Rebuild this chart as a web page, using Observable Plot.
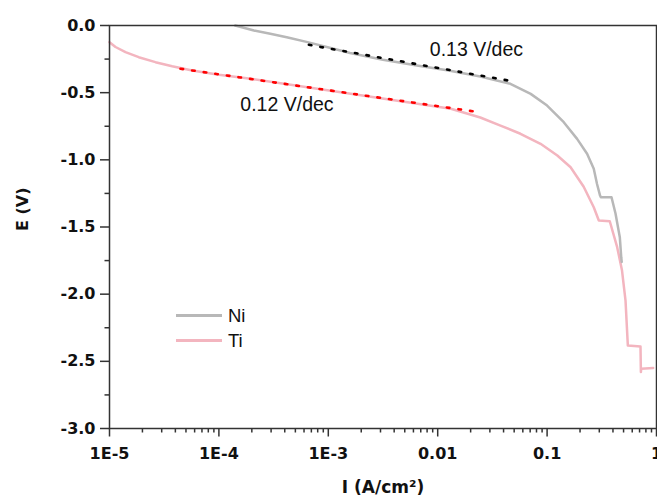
<!DOCTYPE html>
<html>
<head>
<meta charset="utf-8">
<script src="https://cdn.jsdelivr.net/npm/d3@7"></script>
<script src="https://cdn.jsdelivr.net/npm/@observablehq/plot@0.6"></script>
<style>
  html, body { margin: 0; padding: 0; background: #fff; }
  #wrap { position: relative; width: 657px; height: 502px; overflow: hidden; }
  #legend { position: absolute; left: 176px; top: 303px; font-family: "Liberation Sans", Arial, sans-serif; font-size: 18.5px; color: #111; }
  .row { display: flex; align-items: center; height: 25px; }
  .sw { width: 46px; height: 2.5px; margin-right: 6px; }
</style>
</head>
<body>
<div id="wrap"><div id="legend"></div></div>
<script>
// Current density (A/cm^2) and potential (V)
const niI = [1.41e-4, 2.09e-4, 2.95e-4, 4.17e-4, 6.46e-4, 1.12e-3, 1.58e-3, 3.16e-3, 6.46e-3, 0.0126, 0.0245, 0.0462, 0.0708, 0.1, 0.142, 0.188, 0.232, 0.267, 0.286, 0.305, 0.31, 0.388, 0.422, 0.462, 0.476, 0.481];
const niE = [0.0, -0.037, -0.062, -0.087, -0.124, -0.173, -0.205, -0.255, -0.298, -0.335, -0.38, -0.434, -0.509, -0.596, -0.72, -0.844, -0.955, -1.067, -1.18, -1.266, -1.278, -1.278, -1.40, -1.576, -1.725, -1.76];

const tiI = [1.0e-5, 1.135e-5, 1.40e-5, 1.85e-5, 2.63e-5, 3.74e-5, 5.70e-5, 1.0e-4, 1.95e-4, 7.94e-4, 3.24e-3, 0.0132, 0.0245, 0.0375, 0.0571, 0.0871, 0.124, 0.164, 0.216, 0.267, 0.297, 0.374, 0.437, 0.484, 0.521, 0.547, 0.714, 0.72, 0.724, 0.933];
const tiE = [-0.124, -0.16, -0.198, -0.236, -0.273, -0.303, -0.335, -0.367, -0.397, -0.471, -0.546, -0.62, -0.685, -0.745, -0.806, -0.881, -0.968, -1.055, -1.20, -1.353, -1.452, -1.457, -1.65, -1.824, -2.048, -2.383, -2.39, -2.58, -2.556, -2.55];

// Tafel fit lines
const niFitI = [6.64e-4, 0.048];
const niFitE = [-0.144, -0.415];
const tiFitI = [4.46e-5, 0.0238];
const tiFitE = [-0.322, -0.645];

// Annotations
const noteText = ["0.13 V/dec", "0.12 V/dec"];
const noteI = [0.0226, 4.19e-4];
const noteE = [-0.179, -0.588];

// Series / legend
const seriesNames = ["Ni", "Ti"];
const seriesColors = ["#b8b8b8", "#f3b5bf"];

// Axes
const xMajor = [1e-5, 1e-4, 1e-3, 1e-2, 1e-1, 1];
const xLabels = ["1E-5", "1E-4", "1E-3", "0.01", "0.1", "1"];
const yMajor = [0, -0.5, -1.0, -1.5, -2.0, -2.5, -3.0];
const yLabels = ["0.0", "-0.5", "-1.0", "-1.5", "-2.0", "-2.5", "-3.0"];
const yMinor = [-0.25, -0.75, -1.25, -1.75, -2.25, -2.75];
const xTitle = "I (A/cm\u00B2)";
const yTitle = "E (V)";

const xMinor = [];
for (let k = 0; k < 5; k++) for (let m = 2; m <= 9; m++) xMinor.push(m * xMajor[k]);

const zip = (a, b) => a.map((v, i) => ({I: v, E: b[i]}));
const ni = zip(niI, niE), ti = zip(tiI, tiE);
const niFit = zip(niFitI, niFitE), tiFit = zip(tiFitI, tiFitE);
const notes = noteText.map((t, i) => ({t, I: noteI[i], E: noteE[i]}));

const xLab = new Map(xMajor.map((v, i) => [v, xLabels[i]]));
const yLab = new Map(yMajor.map((v, i) => [v, yLabels[i]]));

const tickFont = {fontFamily: "DejaVu Sans", fontWeight: "bold", fontSize: 16};

const chart = Plot.plot({
  width: 657,
  height: 502,
  marginLeft: 109,
  marginRight: 1,
  marginTop: 25,
  marginBottom: 74,
  style: {background: "white", color: "#111", overflow: "visible"},
  x: {type: "log", domain: [1e-5, 1], label: null},
  y: {domain: [-3, 0], label: null},
  marks: [
    Plot.line(ti, {x: "I", y: "E", stroke: seriesColors[1], strokeWidth: 2.5}),
    Plot.line(ni, {x: "I", y: "E", stroke: seriesColors[0], strokeWidth: 2.5}),
    Plot.line(niFit, {x: "I", y: "E", stroke: "#000", strokeWidth: 2.6, strokeDasharray: "2.6,9.1"}),
    Plot.line(tiFit, {x: "I", y: "E", stroke: "#ff0000", strokeWidth: 2.6, strokeDasharray: "2.6,9.1"}),
    Plot.text(notes, {x: "I", y: "E", text: "t", fontFamily: "Liberation Sans", fontSize: 19.5, fill: "#111"}),
    Plot.frame({stroke: "#333", strokeWidth: 1.5}),
    Plot.axisX(xMinor, {tickSize: 4.5, tickFormat: () => "", stroke: "#333", strokeWidth: 1.5, label: null}),
    Plot.axisX(xMajor, {tickSize: 8.5, tickPadding: 11, tickFormat: d => xLab.get(d), stroke: "#333", strokeWidth: 1.5, label: null, ...tickFont}),
    Plot.axisY(yMinor, {tickSize: 4.5, tickFormat: () => "", stroke: "#333", strokeWidth: 1.5, label: null}),
    Plot.axisY(yMajor, {tickSize: 9, tickPadding: 5, tickFormat: d => yLab.get(d), stroke: "#333", strokeWidth: 1.5, label: null, ...tickFont}),
    Plot.text([xTitle], {frameAnchor: "bottom", dy: 64, text: d => d, ...tickFont, fontSize: 17, fill: "#111"}),
    Plot.text([yTitle], {frameAnchor: "left", dx: -87, dy: 4, rotate: -90, text: d => d, ...tickFont, fill: "#111"})
  ]
});
const wrap = document.getElementById("wrap");
wrap.insertBefore(chart, wrap.firstChild);

const legend = document.getElementById("legend");
seriesNames.forEach((n, i) => {
  const row = document.createElement("div");
  row.className = "row";
  const sw = document.createElement("div");
  sw.className = "sw";
  sw.style.background = seriesColors[i];
  const lab = document.createElement("span");
  lab.textContent = n;
  row.appendChild(sw);
  row.appendChild(lab);
  legend.appendChild(row);
});
</script>
</body>
</html>
